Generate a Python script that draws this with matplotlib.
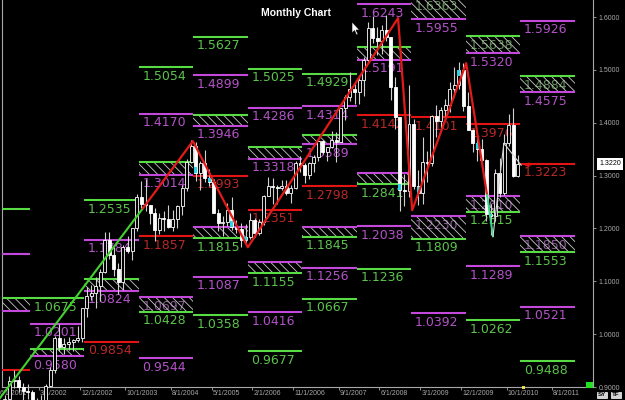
import matplotlib
matplotlib.use('Agg')
import matplotlib.pyplot as plt
from matplotlib.patches import Rectangle, Polygon
from matplotlib.transforms import blended_transform_factory

plt.rcParams['font.family'] = 'DejaVu Sans'
plt.rcParams['hatch.linewidth'] = 0.6

# monthly candles, first one is Jul 2001, last one Dec 2010
first_year, first_month = 2001, 7
ohlc = [
    # 2001
    (0.8480, 0.8850, 0.8350, 0.8770), (0.8770, 0.9200, 0.8720, 0.9110), (0.9110, 0.9330, 0.8990, 0.9130),
    (0.9130, 0.9200, 0.8900, 0.9000), (0.9000, 0.9080, 0.8750, 0.8920), (0.8920, 0.9060, 0.8780, 0.8900),
    # 2002
    (0.8900, 0.8950, 0.8580, 0.8600), (0.8600, 0.8790, 0.8560, 0.8690), (0.8690, 0.8850, 0.8640, 0.8720),
    (0.8720, 0.9050, 0.8720, 0.9020), (0.9020, 0.9380, 0.9000, 0.9330), (0.9330, 0.9960, 0.9260, 0.9920),
    (0.9920, 1.0190, 0.9680, 0.9760), (0.9760, 0.9930, 0.9630, 0.9820), (0.9820, 0.9940, 0.9700, 0.9860),
    (0.9860, 0.9900, 0.9690, 0.9880), (0.9880, 1.0150, 0.9860, 0.9930), (0.9930, 1.0500, 0.9860, 1.0490),
    # 2003
    (1.0490, 1.0900, 1.0330, 1.0730), (1.0730, 1.0930, 1.0650, 1.0780), (1.0780, 1.1080, 1.0500, 1.0910),
    (1.0910, 1.1230, 1.0620, 1.1180), (1.1180, 1.1930, 1.1150, 1.1790), (1.1790, 1.1930, 1.1420, 1.1500),
    (1.1500, 1.1640, 1.1100, 1.1240), (1.1240, 1.1350, 1.0760, 1.0990), (1.0990, 1.1680, 1.0840, 1.1650),
    (1.1650, 1.1860, 1.1540, 1.1580), (1.1580, 1.2010, 1.1410, 1.2000), (1.2000, 1.2650, 1.1950, 1.2590),
    # 2004
    (1.2590, 1.2900, 1.2380, 1.2460), (1.2460, 1.2930, 1.2330, 1.2440), (1.2440, 1.2450, 1.2080, 1.2300),
    (1.2300, 1.2390, 1.1760, 1.1980), (1.1980, 1.2300, 1.1900, 1.2200), (1.2200, 1.2330, 1.1950, 1.2180),
    (1.2180, 1.2440, 1.2000, 1.2020), (1.2020, 1.2340, 1.1950, 1.2170), (1.2170, 1.2440, 1.2000, 1.2420),
    (1.2420, 1.2820, 1.2250, 1.2760), (1.2760, 1.3310, 1.2700, 1.3260), (1.3260, 1.3667, 1.3230, 1.3560),
    # 2005
    (1.3560, 1.3630, 1.2900, 1.3040), (1.3040, 1.3270, 1.2730, 1.3240), (1.3240, 1.3490, 1.2880, 1.2960),
    (1.2960, 1.3120, 1.2800, 1.2870), (1.2870, 1.2940, 1.2290, 1.2300), (1.2300, 1.2360, 1.1950, 1.2100),
    (1.2100, 1.2240, 1.1860, 1.2120), (1.2120, 1.2480, 1.2050, 1.2340), (1.2340, 1.2590, 1.1980, 1.2030),
    (1.2030, 1.2160, 1.1910, 1.1990), (1.1990, 1.2100, 1.1640, 1.1790), (1.1790, 1.2090, 1.1710, 1.1840),
    # 2006
    (1.1840, 1.2290, 1.1800, 1.2160), (1.2160, 1.2190, 1.1830, 1.1920), (1.1920, 1.2180, 1.1870, 1.2120),
    (1.2120, 1.2630, 1.2060, 1.2620), (1.2620, 1.2980, 1.2610, 1.2810), (1.2810, 1.2960, 1.2460, 1.2790),
    (1.2790, 1.2830, 1.2460, 1.2770), (1.2770, 1.2920, 1.2730, 1.2810), (1.2810, 1.2910, 1.2630, 1.2680),
    (1.2680, 1.2830, 1.2480, 1.2760), (1.2760, 1.3280, 1.2740, 1.3240), (1.3240, 1.3370, 1.3070, 1.3200),
    # 2007
    (1.3200, 1.3230, 1.2860, 1.3020), (1.3020, 1.3260, 1.2930, 1.3230), (1.3230, 1.3390, 1.3070, 1.3350),
    (1.3350, 1.3680, 1.3280, 1.3650), (1.3650, 1.3680, 1.3410, 1.3450), (1.3450, 1.3550, 1.3270, 1.3540),
    (1.3540, 1.3850, 1.3520, 1.3680), (1.3680, 1.3830, 1.3260, 1.3640), (1.3640, 1.4280, 1.3630, 1.4270),
    (1.4270, 1.4530, 1.4050, 1.4480), (1.4480, 1.4970, 1.4420, 1.4640), (1.4640, 1.4750, 1.4350, 1.4590),
    # 2008
    (1.4590, 1.4900, 1.4360, 1.4810), (1.4810, 1.5240, 1.4500, 1.5190), (1.5190, 1.5900, 1.5150, 1.5790),
    (1.5790, 1.6020, 1.5510, 1.5610), (1.5610, 1.5820, 1.5280, 1.5540), (1.5540, 1.5850, 1.5300, 1.5760),
    (1.5760, 1.6038, 1.5540, 1.5620), (1.5620, 1.5630, 1.4430, 1.4680), (1.4680, 1.4870, 1.3880, 1.4100),
    (1.4100, 1.4110, 1.2330, 1.2730), (1.2730, 1.3030, 1.2420, 1.2700), (1.2700, 1.4720, 1.2600, 1.3970),
    # 2009
    (1.3970, 1.4080, 1.2750, 1.2800), (1.2800, 1.3110, 1.2450, 1.2670), (1.2670, 1.3740, 1.2460, 1.3260),
    (1.3260, 1.3460, 1.2880, 1.3230), (1.3230, 1.4150, 1.3180, 1.4130), (1.4130, 1.4330, 1.3740, 1.4030),
    (1.4030, 1.4290, 1.3860, 1.4250), (1.4250, 1.4450, 1.4040, 1.4340), (1.4340, 1.4780, 1.4200, 1.4640),
    (1.4640, 1.5060, 1.4480, 1.4720), (1.4720, 1.5144, 1.4640, 1.5000), (1.5000, 1.5140, 1.4220, 1.4320),
    # 2010
    (1.4320, 1.4580, 1.3860, 1.3860), (1.3860, 1.3880, 1.3440, 1.3620), (1.3620, 1.3740, 1.3270, 1.3510),
    (1.3510, 1.3690, 1.3170, 1.3290), (1.3290, 1.3320, 1.2140, 1.2280), (1.2280, 1.2470, 1.1876, 1.2240),
    (1.2240, 1.3120, 1.2150, 1.3050), (1.3050, 1.3330, 1.2590, 1.2680), (1.2680, 1.3790, 1.2640, 1.3610),
    (1.3610, 1.4160, 1.3560, 1.3950), (1.3950, 1.4280, 1.2970, 1.3000), (1.3000, 1.3390, 1.2970, 1.3220),
]
cyan_idx = [42, 45, 50, 53, 87, 91, 100, 104, 107]

# yearly projection levels
level_year = [2001, 2001, 2001, 2001, 2001,
              2002, 2002, 2002, 2002,
              2003, 2003, 2003, 2003, 2003,
              2004, 2004, 2004, 2004, 2004, 2004, 2004, 2004,
              2005, 2005, 2005, 2005, 2005, 2005, 2005, 2005, 2005,
              2006, 2006, 2006, 2006, 2006, 2006, 2006, 2006, 2006,
              2007, 2007, 2007, 2007, 2007, 2007, 2007, 2007, 2007,
              2008, 2008, 2008, 2008, 2008, 2008, 2008, 2008,
              2009, 2009, 2009, 2009, 2009, 2009,
              2010, 2010, 2010, 2010, 2010, 2010, 2010,
              2011, 2011, 2011, 2011, 2011, 2011, 2011, 2011]
level_price = [1.2364, 1.1510, 1.0680, 1.0430, 0.9330,
               1.0675, 1.0201, 0.9712, 0.9580,
               1.2535, 1.1784, 1.1040, 1.0824, 0.9854,
               1.5054, 1.4170, 1.3250, 1.3014, 1.1857, 1.0697, 1.0428, 0.9544,
               1.5627, 1.4899, 1.4144, 1.3946, 1.2993, 1.2023, 1.1815, 1.1087, 1.0358,
               1.5025, 1.4286, 1.3540, 1.3318, 1.2351, 1.1360, 1.1155, 1.0416, 0.9677,
               1.4929, 1.4314, 1.3760, 1.3589, 1.2798, 1.2020, 1.1845, 1.1256, 1.0667,
               1.6243, 1.5430, 1.5191, 1.4142, 1.3057, 1.2841, 1.2038, 1.1236,
               1.6363, 1.5955, 1.4101, 1.2230, 1.1809, 1.0392,
               1.5638, 1.5320, 1.3976, 1.2610, 1.2315, 1.1289, 1.0262,
               1.5926, 1.4884, 1.4575, 1.3223, 1.1850, 1.1553, 1.0521, 0.9488]
level_kind = ['g', 'm', 'g', 'm', 'r',
              'g', 'm', 'g', 'm',
              'g', 'm', 'g', 'm', 'r',
              'g', 'm', 'g', 'm', 'r', 'm', 'g', 'm',
              'g', 'm', 'g', 'm', 'r', 'm', 'g', 'm', 'g',
              'g', 'm', 'g', 'm', 'r', 'm', 'g', 'm', 'g',
              'g', 'm', 'g', 'm', 'r', 'm', 'g', 'm', 'g',
              'm', 'g', 'm', 'r', 'm', 'g', 'm', 'g',
              'g', 'm', 'r', 'm', 'g', 'm',
              'g', 'm', 'r', 'm', 'g', 'm', 'g',
              'm', 'g', 'm', 'r', 'm', 'g', 'm', 'g']

zone_year = [2001, 2002, 2003, 2004, 2004, 2005, 2005, 2006, 2006, 2007, 2007,
             2008, 2008, 2009, 2009, 2010, 2010, 2011, 2011]
zone_top = [1.0680, 0.9712, 1.1040, 1.3250, 1.0697, 1.4144, 1.2023, 1.3540, 1.1360, 1.3760, 1.2020,
            1.5430, 1.3057, 1.6363, 1.2230, 1.5638, 1.2610, 1.4884, 1.1850]
zone_bottom = [1.0430, 0.9580, 1.0824, 1.3014, 1.0428, 1.3946, 1.1815, 1.3318, 1.1155, 1.3589, 1.1845,
               1.5191, 1.2841, 1.5955, 1.1809, 1.5320, 1.2315, 1.4575, 1.1553]

# swing lines (month index from Jan 2001, price)
trend_month = [5.4, 36.9]
trend_price = [0.8790, 1.2383]
zig_month = [36.9, 47.9, 60.0, 93.1, 96.2, 108.1, 112.7]
zig_price = [1.2383, 1.3652, 1.1644, 1.5981, 1.2345, 1.5129, 1.2630]
tail_month = [112.7, 114.0]
tail_price = [1.2630, 1.1852]
gray_month = [114.0, 116.4, 120.2]
gray_price = [1.1852, 1.3614, 1.3197]

date_labels = ['6/1/2001', '3/1/2002', '12/1/2002', '10/1/2003', '8/1/2004', '5/1/2005', '2/1/2006',
               '11/1/2006', '9/1/2007', '6/1/2008', '3/1/2009', '12/1/2009', '10/1/2010', '8/1/2011']
price_ticks = [0.9, 1.0, 1.1, 1.2, 1.3, 1.4, 1.5, 1.6]

line_col = {'g': '#58dc44', 'm': '#c448dc', 'r': '#e41414'}
label_col = {'g': '#5cc44c', 'm': '#b452c8', 'r': '#b82828'}
dim_col = {'g': '#5f8f55', 'm': '#8a5a96', 'r': '#7a3030'}
axis_col = '#a8a8a8'
x_left, x_right = 5.85, 136.03


def month_of(lbl):
    mo, _, yr = lbl.split('/')
    return (int(yr) - 2001) * 12 + int(mo) - 1


fig = plt.figure(figsize=(6.25, 4), dpi=100, facecolor='black')
ax = fig.add_axes([2 / 625, 13 / 400, 591 / 625, 387 / 400])
ax.set_facecolor('black')
ax.set_xlim(x_left, x_right)
ax.set_ylim(0.9, 1.6323)

# levels + labels
for yr, p, k in zip(level_year, level_price, level_kind):
    x0 = (yr - 2001) * 12
    ax.hlines(p, x0, x0 + 12, color=line_col[k], lw=1.5, zorder=3.5)
    inzone = any(zy == yr and abs(zt - p) < 1e-9 for zy, zt in zip(zone_year, zone_top))
    if inzone:
        continue
    ax.annotate('%.4f' % p, (x0, p), xytext=(2.5, -1.8), textcoords='offset points',
                ha='left', va='top', color=label_col[k], fontsize=9, zorder=3.5)

# hatched zones, with the faded value of the upper edge under the hatch
for yr, top, bot in zip(zone_year, zone_top, zone_bottom):
    x0 = (yr - 2001) * 12
    rect = Rectangle((x0, bot), 12, top - bot, facecolor='none', edgecolor='#c8c8c8',
                     lw=0, hatch='\\\\\\\\', zorder=3)
    ax.add_patch(rect)
    if x0 < x_left or top - bot < 0.025:
        continue
    k = [kk for y2, p2, kk in zip(level_year, level_price, level_kind) if y2 == yr and abs(p2 - top) < 1e-9][0]
    t = ax.annotate('%.4f' % top, (x0, top), xytext=(2.5, -1.8), textcoords='offset points',
                    ha='left', va='top', color=dim_col[k], fontsize=9, zorder=2.5,
                    annotation_clip=False)
    t.set_clip_path(rect)

# candles
xs, o, h, l, c = [], [], [], [], []
for i, (oo, hh, ll, cc) in enumerate(ohlc):
    m = (first_year - 2001) * 12 + first_month - 1 + i + 0.5
    xs.append(m); o.append(oo); h.append(hh); l.append(ll); c.append(cc)

ax.vlines(xs, l, h, color='#d0d0d0', lw=0.8, zorder=4, clip_on=False)
bottoms = [min(a, b) for a, b in zip(o, c)]
heights = [max(abs(b - a), 0.0012) for a, b in zip(o, c)]
faces = ['white' if b < a else 'black' for a, b in zip(o, c)]
ax.bar(xs, heights, bottom=bottoms, width=0.66, color=faces, edgecolor='white',
       linewidth=0.6, zorder=4.2, clip_on=False)
for i in cyan_idx:
    hh = min(heights[i], 0.012)
    y0 = c[i] if c[i] < o[i] else c[i] - hh
    ax.add_patch(Rectangle((xs[i] - 0.33, y0), 0.66, hh, facecolor='#2ad4e6',
                           edgecolor='none', zorder=4.3))

# swing lines
ax.plot(trend_month, trend_price, color='#44d030', lw=1.5, zorder=5, clip_on=False)
ax.plot(zig_month, zig_price, color='#e21a1a', lw=1.6, zorder=5)
ax.plot(tail_month, tail_price, color='#3ad88a', lw=1.4, zorder=5)
ax.plot(gray_month, gray_price, color='#d8d8d8', lw=0.8, zorder=5)
ax.annotate('', xy=(120.2, 1.3205), xytext=(123.0, 1.3205),
            arrowprops=dict(arrowstyle='-|>', color='#e41414', lw=1, mutation_scale=6), zorder=5)

# axes look
for s in ['left', 'right', 'bottom']:
    ax.spines[s].set_color(axis_col)
    ax.spines[s].set_linewidth(0.8)
ax.spines['top'].set_visible(False)

ax.yaxis.tick_right()
ax.set_yticks(price_ticks)
ax.set_yticklabels(['%.4f' % v for v in price_ticks], fontfamily='Liberation Sans')
ax.tick_params(axis='y', colors=axis_col, labelsize=5, length=2, pad=2, width=0.6)

tick_m = [month_of(s) for s in date_labels]
ax.set_xticks([m for m in tick_m if m >= x_left])
ax.set_xticklabels([])
ax.tick_params(axis='x', colors=axis_col, length=2, width=0.6)
xtr = blended_transform_factory(ax.transData, ax.transAxes)
for s, m in zip(date_labels, tick_m):
    ax.annotate(s, (m, 0), xycoords=xtr, xytext=(0.8, -2.5), textcoords='offset points',
                ha='left', va='top', fontsize=5, color=axis_col, fontfamily='Liberation Sans',
                annotation_clip=False)

# last price box
ytr = blended_transform_factory(ax.transAxes, ax.transData)
ax.annotate('%.4f' % c[-1], (1, c[-1]), xycoords=ytr, xytext=(4.5, 0), textcoords='offset points',
            ha='left', va='center', fontsize=5, color='black', fontfamily='Liberation Sans',
            bbox=dict(boxstyle='square,pad=0.35', fc='white', ec='none'), annotation_clip=False)

fig.text(296 / 625, 1 - 13 / 400, 'Monthly Chart', ha='center', va='center', color='white',
         fontsize=7.5, fontweight='bold', fontfamily='Liberation Sans')

# little widgets in the corner
fig.text(602 / 625, 1 - 395 / 400, 'SY', ha='center', va='center', fontsize=4.5, fontweight='bold',
         color='black', fontfamily='Liberation Sans',
         bbox=dict(boxstyle='square,pad=0.12', fc='#d4d4d4', ec='white', lw=0.5))
fig.text(616 / 625, 1 - 395 / 400, 'TF', ha='center', va='center', fontsize=4.5, fontweight='bold',
         color='black', fontfamily='Liberation Sans',
         bbox=dict(boxstyle='square,pad=0.12', fc='#d4d4d4', ec='white', lw=0.5))
fig.patches.append(Rectangle((586 / 625, 1 - 388 / 400), 7 / 625, 6 / 400,
                             transform=fig.transFigure, facecolor='#22e022', edgecolor='none'))
fig.patches.append(Rectangle((522 / 625, 1 - 389 / 400), 3 / 625, 3 / 400,
                             transform=fig.transFigure, facecolor='#e8e040', edgecolor='none'))
cur = [(352, 22), (352, 33), (354.5, 30.5), (356.5, 35), (358, 34.3), (356, 30), (359.5, 30)]
fig.patches.append(Polygon([(x / 625, 1 - y / 400) for x, y in cur], closed=True,
                           transform=fig.transFigure, facecolor='white', edgecolor='black', lw=0.4))

fig.savefig('out.png', dpi=100, facecolor='black')
